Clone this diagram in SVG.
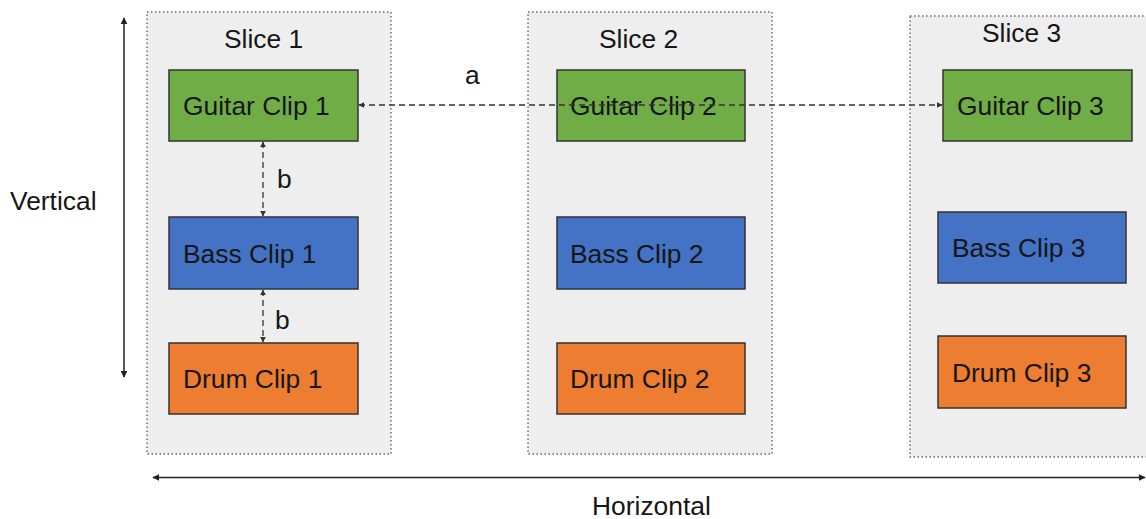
<svg xmlns="http://www.w3.org/2000/svg" width="1146" height="519" viewBox="0 0 1146 519">
  <defs>
    <style>
      text { font-family: "Liberation Sans", Arial, sans-serif; font-size: 26.4px; fill: #161616; }
      .slice { fill: #eeeeee; stroke: #666666; stroke-width: 1.4; stroke-dasharray: 1.5 2.5; }
      .clip { stroke: #333333; stroke-width: 1.5; }
      .guitar { fill: #70ad47; }
      .bass { fill: #4472c4; }
      .drum { fill: #ed7d31; }
      .axis { fill: none; stroke: #222222; stroke-width: 1.5; }
      .link { fill: none; stroke: #333333; stroke-width: 1.3; stroke-dasharray: 6 4; }
    </style>
    <marker id="head" viewBox="0 0 10 10" refX="9" refY="5" markerWidth="7" markerHeight="7" markerUnits="userSpaceOnUse" orient="auto-start-reverse">
      <path d="M0,0 L10,5 L0,10 z" fill="#222222"/>
    </marker>
    <marker id="headSmall" viewBox="0 0 10 10" refX="9" refY="5" markerWidth="6" markerHeight="6" markerUnits="userSpaceOnUse" orient="auto-start-reverse">
      <path d="M0,0 L10,5 L0,10 z" fill="#333333"/>
    </marker>
  </defs>

  <!-- slice containers -->
  <g id="slice1">
    <rect class="slice" x="147" y="12" width="244" height="442"/>
    <text x="224" y="48">Slice 1</text>
  </g>
  <g id="slice2">
    <rect class="slice" x="528" y="12" width="244" height="442"/>
    <text x="599" y="48">Slice 2</text>
  </g>
  <g id="slice3">
    <rect class="slice" x="910" y="16" width="250" height="441"/>
    <text x="982" y="42">Slice 3</text>
  </g>

  <!-- clips -->
  <g id="guitar1">
    <rect class="clip guitar" x="169" y="70" width="189" height="71"/>
    <text x="183" y="115">Guitar Clip 1</text>
  </g>
  <g id="bass1">
    <rect class="clip bass" x="169" y="217" width="189" height="72"/>
    <text x="183" y="263">Bass Clip 1</text>
  </g>
  <g id="drum1">
    <rect class="clip drum" x="169" y="343" width="189" height="71"/>
    <text x="183" y="388">Drum Clip 1</text>
  </g>
  <g id="guitar2">
    <rect class="clip guitar" x="557" y="70" width="188" height="71"/>
    <text x="570" y="115">Guitar Clip 2</text>
  </g>
  <g id="bass2">
    <rect class="clip bass" x="557" y="217" width="188" height="72"/>
    <text x="570" y="263">Bass Clip 2</text>
  </g>
  <g id="drum2">
    <rect class="clip drum" x="557" y="343" width="188" height="71"/>
    <text x="570" y="388">Drum Clip 2</text>
  </g>
  <g id="guitar3">
    <rect class="clip guitar" x="943" y="70" width="189" height="71"/>
    <text x="957" y="115">Guitar Clip 3</text>
  </g>
  <g id="bass3">
    <rect class="clip bass" x="938" y="212" width="188" height="71"/>
    <text x="952" y="257">Bass Clip 3</text>
  </g>
  <g id="drum3">
    <rect class="clip drum" x="938" y="336" width="188" height="72"/>
    <text x="952" y="382">Drum Clip 3</text>
  </g>

  <!-- axes and relations -->
  <g id="connectors">
    <line class="axis" x1="124" y1="18" x2="124" y2="377" marker-start="url(#head)" marker-end="url(#head)"/>
    <text x="10" y="210">Vertical</text>
    <line class="axis" x1="153" y1="477.5" x2="1145" y2="477.5" marker-start="url(#head)" marker-end="url(#head)"/>
    <text x="592" y="515">Horizontal</text>

    <line class="link" x1="359" y1="105" x2="942" y2="105" marker-start="url(#headSmall)" marker-end="url(#headSmall)"/>
    <text x="465" y="84">a</text>

    <line class="link" x1="263" y1="142" x2="263" y2="216" marker-start="url(#headSmall)" marker-end="url(#headSmall)"/>
    <text x="277" y="188">b</text>
    <line class="link" x1="263" y1="290" x2="263" y2="342" marker-start="url(#headSmall)" marker-end="url(#headSmall)"/>
    <text x="275" y="329">b</text>
  </g>
</svg>
